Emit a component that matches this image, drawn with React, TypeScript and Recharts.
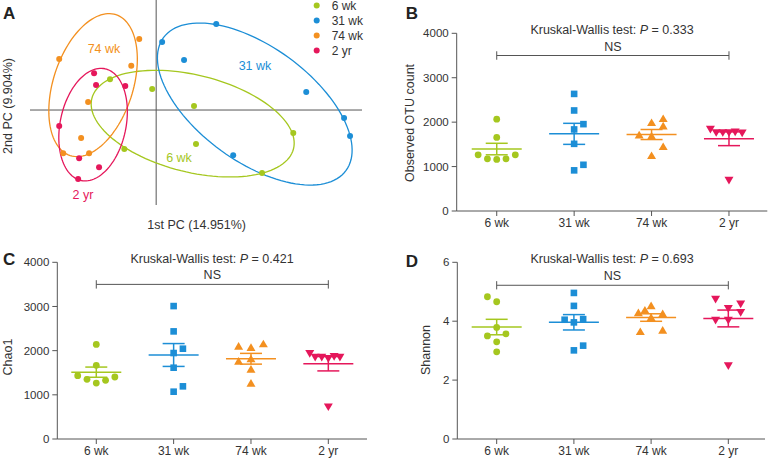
import React from 'react';
import { ScatterChart, Scatter, XAxis, YAxis, ReferenceLine, ErrorBar } from 'recharts';

const groups = ['6 wk', '31 wk', '74 wk', '2 yr'];
const groupColors = ['#a5c71f', '#1c8ed6', '#f39020', '#e5175b'];
const markers = ['circle', 'square', 'triangle', 'triangleDown'];

// A: PCA scores [1st PC, 2nd PC]
const pca6wk = [[-13.9, 9.3], [-1.2, 6.3], [11.4, 1.2], [12.0, -10.2], [41.3, -6.9], [31.9, -19.0], [-9.6, -11.7]];
const pca31wk = [[1.8, 20.5], [18.1, 25.9], [8.4, 15.1], [45.2, 5.4], [56.6, -2.4], [58.4, -7.8], [23.2, -13.6]];
const pca74wk = [[-5.1, 21.4], [-29.2, 15.4], [-7.5, 13.3], [-20.5, 2.4], [-22.6, -8.4], [-28.0, -13.0], [-20.2, -13.0]];
const pca2yr = [[-18.7, 11.1], [-18.1, 7.5], [-9.3, 7.2], [-29.2, -4.8], [-23.2, -14.5], [-17.2, -17.2], [-23.5, -20.8]];

// group ellipses: centre x, centre y, semi-major, semi-minor, angle (deg)
const ell6wk = [11.0, -4.1, 31.3, 14.6, -14];
const ell31wk = [29.7, 1.8, 34.0, 17.3, -36];
const ell74wk = [-19.0, 7.5, 22.3, 12.0, 72];
const ell2yr = [-19.0, -4.4, 17.2, 9.9, 78];

// B: observed OTU count
const otu6wk = [2067, 1656, 1265, 1175, 1160, 1175, 1265];
const otu31wk = [2636, 2263, 1836, 1955, 1512, 1040, 915];
const otu74wk = [2075, 1985, 1910, 1708, 1685, 1445, 1243];
const otu2yr = [1843, 1768, 1768, 1768, 1782, 1760, 697];
const otuJitter = [
  [0, 0, -0.24, -0.12, 0, 0.12, 0.24],
  [0, 0, 0, 0.12, 0, 0.12, 0],
  [0.15, 0, 0.15, -0.16, 0, 0.15, 0],
  [-0.24, -0.165, -0.08, 0, 0.08, 0.17, 0],
];

// C: Chao1
const chao6wk = [2142, 1667, 1433, 1350, 1267, 1328, 1403];
const chao31wk = [3009, 2436, 1946, 2044, 1614, 1192, 1071];
const chao74wk = [2097, 2066, 2149, 1757, 1810, 1577, 1260];
const chao2yr = [1938, 1855, 1855, 1825, 1870, 1855, 731];
const chaoJitter = [
  [0, 0, -0.24, -0.12, 0, 0.12, 0.24],
  [0, 0, 0, 0.12, 0, 0.12, 0],
  [-0.16, 0, 0.16, -0.16, 0, 0, 0],
  [-0.24, -0.17, -0.085, 0, 0.075, 0.15, 0],
];

// D: Shannon
const shan6wk = [4.83, 4.66, 3.79, 3.5, 3.57, 3.3, 2.96];
const shan31wk = [4.96, 4.52, 4.05, 3.96, 4.07, 3.17, 3.01];
const shan74wk = [4.28, 4.37, 4.52, 4.25, 4.12, 3.64, 3.69];
const shan2yr = [4.75, 4.44, 4.59, 4.3, 4.04, 4.04, 2.49];
const shanJitter = [
  [-0.12, 0, 0, -0.12, 0.12, 0, 0],
  [0, 0, -0.12, 0, 0.12, 0.12, 0],
  [-0.165, -0.08, 0, 0.15, 0, -0.14, 0.15],
  [-0.165, 0, 0.16, 0.16, -0.165, 0, 0],
];

const otuTicks = [0, 1000, 2000, 3000, 4000];
const shanTicks = [0, 2, 4, 6];

const FONT = '"Liberation Sans", Arial, sans-serif';
const AXIS = '#555';
const TXT = '#333';

const mean = (a: number[]) => a.reduce((s, v) => s + v, 0) / a.length;
const sem = (a: number[]) => {
  const m = mean(a);
  return Math.sqrt(a.reduce((s, v) => s + (v - m) ** 2, 0) / (a.length - 1) / a.length);
};

const ellipsePoints = ([cx, cy, a, b, deg]: number[]) => {
  const th = (deg * Math.PI) / 180;
  return Array.from({ length: 121 }, (_, i) => {
    const t = (i / 120) * 2 * Math.PI;
    return {
      x: cx + a * Math.cos(t) * Math.cos(th) - b * Math.sin(t) * Math.sin(th),
      y: cy + a * Math.cos(t) * Math.sin(th) + b * Math.sin(t) * Math.cos(th),
    };
  });
};

function Marker(props: any) {
  const { cx, cy, kind, color } = props;
  if (cx == null || cy == null) return <g />;
  if (kind === 'circle') return <circle cx={cx} cy={cy} r={3.4} fill={color} />;
  if (kind === 'square') return <rect x={cx - 3.3} y={cy - 3.3} width={6.6} height={6.6} fill={color} />;
  if (kind === 'triangle')
    return <polygon points={`${cx},${cy - 4.4} ${cx + 4.5},${cy + 3.3} ${cx - 4.5},${cy + 3.3}`} fill={color} />;
  return <polygon points={`${cx},${cy + 4.4} ${cx + 4.5},${cy - 3.3} ${cx - 4.5},${cy - 3.3}`} fill={color} />;
}

function PcaPanel() {
  const pts = [pca6wk, pca31wk, pca74wk, pca2yr];
  const ells = [ell6wk, ell31wk, ell74wk, ell2yr];
  return (
    <div style={{ position: 'absolute', left: 0, top: 0 }}>
      <ScatterChart width={384} height={215} margin={{ top: 0, right: 22, bottom: 10, left: 30 }}>
        <XAxis type="number" dataKey="x" hide domain={[-38, 62]} allowDataOverflow />
        <YAxis type="number" dataKey="y" hide domain={[-28.6, 33.13]} allowDataOverflow />
        <ReferenceLine x={0} stroke={AXIS} strokeWidth={1} />
        <ReferenceLine y={0} stroke={AXIS} strokeWidth={1} />
        {ells.map((e, i) => (
          <Scatter
            key={'e' + i}
            data={ellipsePoints(e)}
            line={{ stroke: groupColors[i], strokeWidth: 1.3 }}
            shape={() => <g />}
            legendType="none"
            isAnimationActive={false}
          />
        ))}
        {pts.map((p, i) => (
          <Scatter
            key={'p' + i}
            name={groups[i]}
            data={p.map(([x, y]) => ({ x, y }))}
            fill={groupColors[i]}
            shape={(s: any) => <circle cx={s.cx} cy={s.cy} r={3} fill={groupColors[i]} />}
            isAnimationActive={false}
          />
        ))}
      </ScatterChart>
    </div>
  );
}

type DotProps = {
  left: number;
  top: number;
  height: number;
  margin: { top: number; right: number; bottom: number; left: number };
  xDomain: number[];
  yDomain: number[];
  yTicks: number[];
  series: number[][];
  jitter: number[][];
  bracketY: number;
  bracketTick: number;
  xAxisHeight: number;
};

function DotPanel({ left, top, height, margin, xDomain, yDomain, yTicks, series, jitter, bracketY, bracketTick, xAxisHeight }: DotProps) {
  return (
    <div style={{ position: 'absolute', left, top }}>
      <ScatterChart width={384} height={height} margin={margin}>
        <XAxis
          type="number"
          dataKey="x"
          domain={xDomain}
          allowDataOverflow
          ticks={[1, 2, 3, 4]}
          tickFormatter={(v: number) => groups[v - 1]}
          axisLine={{ stroke: AXIS }}
          tickLine={{ stroke: AXIS }}
          tickSize={5}
          tickMargin={2}
          height={xAxisHeight}
          tick={{ fill: TXT, fontSize: 12 }}
        />
        <YAxis
          type="number"
          dataKey="y"
          domain={yDomain}
          allowDataOverflow
          ticks={yTicks}
          axisLine={{ stroke: AXIS }}
          tickLine={{ stroke: AXIS }}
          tickSize={5}
          tickMargin={3}
          width={40}
          tick={{ fill: TXT, fontSize: 11.5 }}
        />
        <ReferenceLine
          segment={[{ x: 1, y: bracketY }, { x: 4, y: bracketY }]}
          stroke={AXIS}
          label={{ value: 'NS', position: 'top', fill: TXT, fontSize: 12.5, offset: 5 }}
        />
        <ReferenceLine segment={[{ x: 1, y: bracketY - bracketTick }, { x: 1, y: bracketY + bracketTick }]} stroke={AXIS} />
        <ReferenceLine segment={[{ x: 4, y: bracketY - bracketTick }, { x: 4, y: bracketY + bracketTick }]} stroke={AXIS} />
        {series.map((vals, i) => (
          <Scatter
            key={'d' + i}
            data={vals.map((v, j) => ({ x: i + 1 + jitter[i][j], y: v }))}
            shape={(s: any) => <Marker cx={s.cx} cy={s.cy} kind={markers[i]} color={groupColors[i]} />}
            isAnimationActive={false}
          />
        ))}
        {series.map((vals, i) => (
          <Scatter
            key={'m' + i}
            data={[{ x: i + 1, y: mean(vals), err: sem(vals) }]}
            shape={(s: any) => (
              <line x1={s.cx - 25} x2={s.cx + 25} y1={s.cy} y2={s.cy} stroke={groupColors[i]} strokeWidth={1.5} />
            )}
            isAnimationActive={false}
          >
            <ErrorBar dataKey="err" direction="y" width={11} stroke={groupColors[i]} strokeWidth={1.5} />
          </Scatter>
        ))}
      </ScatterChart>
    </div>
  );
}

function Title({ x, y, p }: { x: number; y: number; p: string }) {
  return (
    <text x={x} y={y} textAnchor="middle" fontSize={12.5} fill={TXT}>
      Kruskal-Wallis test: <tspan fontStyle="italic">P</tspan> = {p}
    </text>
  );
}

function Overlay() {
  const lab = { fontSize: 12.5, fill: TXT } as const;
  const big = { fontSize: 17, fontWeight: 700, fill: '#222' } as const;
  return (
    <svg width={768} height={461} style={{ position: 'absolute', left: 0, top: 0, pointerEvents: 'none', fontFamily: FONT }}>
      <text x={3} y={19.3} {...big}>A</text>
      <text x={405.7} y={19} {...big}>B</text>
      <text x={3} y={265} {...big}>C</text>
      <text x={405.7} y={267} {...big}>D</text>

      <text x={196.7} y={229} textAnchor="middle" {...lab}>1st PC (14.951%)</text>
      <text transform="translate(12,106) rotate(-90)" textAnchor="middle" {...lab}>2nd PC (9.904%)</text>
      <text x={104} y={52.5} textAnchor="middle" fontSize={12.5} fill={groupColors[2]}>74 wk</text>
      <text x={255} y={69.5} textAnchor="middle" fontSize={12.5} fill={groupColors[1]}>31 wk</text>
      <text x={179} y={161.5} textAnchor="middle" fontSize={12.5} fill={groupColors[0]}>6 wk</text>
      <text x={83} y={198.5} textAnchor="middle" fontSize={12.5} fill={groupColors[3]}>2 yr</text>

      {groups.map((g, i) => (
        <g key={g}>
          <circle cx={316.7} cy={5.5 + i * 15} r={3} fill={groupColors[i]} />
          <text x={331.7} y={10.3 + i * 15} fontSize={12} fill={TXT}>{g}</text>
        </g>
      ))}

      <Title x={612} y={34} p="0.333" />
      <Title x={212} y={262.5} p="0.421" />
      <Title x={612} y={262.5} p="0.693" />

      <text transform="translate(414,123) rotate(-90)" textAnchor="middle" {...lab}>Observed OTU count</text>
      <text transform="translate(12.4,357) rotate(-90)" textAnchor="middle" {...lab}>Chao1</text>
      <text transform="translate(430,350) rotate(-90)" textAnchor="middle" {...lab}>Shannon</text>
    </svg>
  );
}

export default function App() {
  return (
    <div style={{ position: 'absolute', left: 0, top: 0, width: 768, height: 461, background: '#fff', fontFamily: FONT, overflow: 'hidden' }}>
      <PcaPanel />
      <DotPanel
        left={384}
        top={0}
        height={240}
        margin={{ top: 33.3, right: 0.7, bottom: 4, left: 32.7 }}
        xAxisHeight={25}
        xDomain={[0.483, 4.495]}
        yDomain={[0, 4000]}
        yTicks={otuTicks}
        series={[otu6wk, otu31wk, otu74wk, otu2yr]}
        jitter={otuJitter}
        bracketY={3500}
        bracketTick={95}
      />
      <DotPanel
        left={0}
        top={225}
        height={236}
        margin={{ top: 37.3, right: 17, bottom: 2, left: 17.3 }}
        xAxisHeight={20}
        xDomain={[0.496, 4.5]}
        yDomain={[0, 4000]}
        yTicks={otuTicks}
        series={[chao6wk, chao31wk, chao74wk, chao2yr]}
        jitter={chaoJitter}
        bracketY={3500}
        bracketTick={95}
      />
      <DotPanel
        left={384}
        top={225}
        height={236}
        margin={{ top: 37.3, right: 3, bottom: 2, left: 33.3 }}
        xAxisHeight={20}
        xDomain={[0.49, 4.475]}
        yDomain={[0, 6]}
        yTicks={shanTicks}
        series={[shan6wk, shan31wk, shan74wk, shan2yr]}
        jitter={shanJitter}
        bracketY={5.22}
        bracketTick={0.14}
      />
      <Overlay />
    </div>
  );
}
